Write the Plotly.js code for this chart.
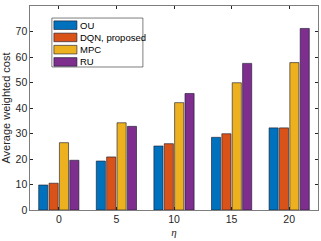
<!DOCTYPE html>
<html><head><meta charset="utf-8">
<script src="https://cdn.plot.ly/plotly-3.0.1.min.js"></script>
<style>html,body{margin:0;padding:0;background:#fff}#c{width:321px;height:241px}</style>
</head><body><div id="c"></div>
<script>
const eta = [0, 5, 10, 15, 20];
const names = ["OU", "DQN, proposed", "MPC", "RU"];
const ou  = [9.8, 19.2, 25.1, 28.5, 32.2];
const dqn = [10.5, 20.8, 26.0, 29.9, 32.2];
const mpc = [26.4, 34.2, 42.1, 49.9, 57.8];
const ru  = [19.5, 32.8, 45.7, 57.5, 71.2];
const colors = ["#0072BD", "#D95319", "#EDB120", "#7E2F8E"];
const series = [ou, dqn, mpc, ru];
const edge = "rgba(20,20,40,0.75)";
const data = series.map((v, i) => ({
  type: "bar", x: eta, y: v, name: names[i],
  marker: {color: colors[i], line: {color: edge, width: 0.8}}
}));
const axFont = {family: "Liberation Sans, Arial, sans-serif", size: 10.5, color: "#262626"};

// custom compact legend (MATLAB-style), in paper coordinates
const shapes = [{type: "rect", xref: "paper", yref: "paper", x0: 0.076, x1: 0.392, y0: 0.701, y1: 0.941,
  line: {color: "#262626", width: 0.6}, fillcolor: "#fff", layer: "above"}];
const annotations = [];
const yc = [0.906, 0.846, 0.786, 0.726];
names.forEach((n, i) => {
  shapes.push({type: "rect", xref: "paper", yref: "paper", x0: 0.083, x1: 0.163,
    y0: yc[i] - 0.021, y1: yc[i] + 0.021, fillcolor: colors[i],
    line: {color: edge, width: 0.8}, layer: "above"});
  annotations.push({xref: "paper", yref: "paper", x: 0.168, y: yc[i], xanchor: "left", yanchor: "middle",
    text: n, showarrow: false, font: {family: "Liberation Sans, Arial, sans-serif", size: 9.5, color: "#000"}});
});

const layout = {
  width: 321, height: 241,
  margin: {l: 30, r: 3, t: 6, b: 31},
  paper_bgcolor: "#fff", plot_bgcolor: "#fff",
  barmode: "group", bargap: 0.28, bargroupgap: 0.12,
  font: axFont,
  showlegend: false,
  shapes: shapes, annotations: annotations,
  xaxis: {range: [-2.5, 22.5], tickvals: eta, ticktext: eta.map(String),
    ticks: "inside", ticklen: 3, tickcolor: "#262626", mirror: "ticks",
    showline: true, linecolor: "#262626", linewidth: 0.6, showgrid: false, zeroline: false,
    tickfont: axFont,
    title: {text: "<i>η</i>", font: {family: "Liberation Serif, serif", size: 11, color: "#262626"}, standoff: 3}},
  yaxis: {range: [0, 80], dtick: 10,
    ticks: "inside", ticklen: 3, tickcolor: "#262626", mirror: "ticks",
    showline: true, linecolor: "#262626", linewidth: 0.6, showgrid: false, zeroline: false,
    tickfont: axFont,
    title: {text: "Average weighted cost", font: {family: "Liberation Sans, Arial, sans-serif", size: 11, color: "#262626"}, standoff: 3}}
};
Plotly.newPlot("c", data, layout, {displayModeBar: false, staticPlot: true});
</script></body></html>
